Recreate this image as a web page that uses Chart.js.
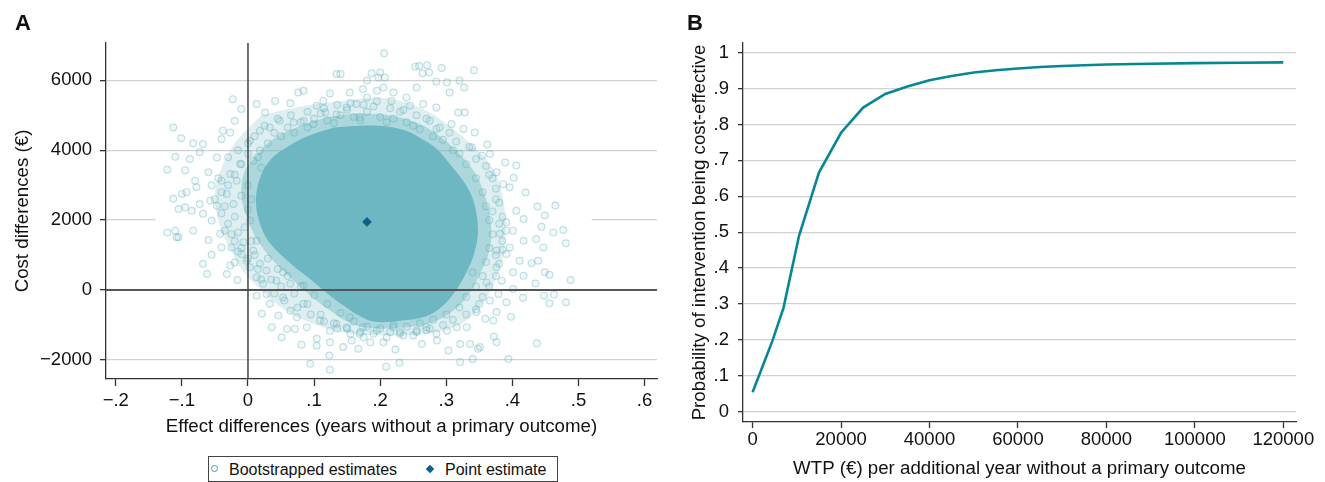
<!DOCTYPE html>
<html>
<head>
<meta charset="utf-8">
<script src="https://cdn.jsdelivr.net/npm/chart.js@4.4.1/dist/chart.umd.min.js"></script>
<style>
  body { margin: 0; background: #fff; width: 1325px; height: 482px; overflow: hidden; position: relative; font-family: "Liberation Sans", Arial, sans-serif; color: #111; }
  #cA { position: absolute; left: 0; top: 0; }
  #cB { position: absolute; left: 680px; top: 0; }
  .panel { position: absolute; top: 12px; font-weight: bold; font-size: 22px; line-height: 22px; }
  #legend { position: absolute; left: 208px; top: 456px; width: 348px; height: 24px; border: 1px solid #444; }
  #legend span { position: absolute; top: 5px; font-size: 16px; line-height: 16px; white-space: nowrap; }
  .ring { position: absolute; left: 2px; top: 8px; width: 5px; height: 5px; border: 1.3px solid #3f9db3; border-radius: 50%; }
  .dia { position: absolute; left: 218px; top: 9px; width: 6px; height: 6px; background: #0b6283; transform: rotate(45deg); }
</style>
</head>
<body>
<canvas id="cA" width="680" height="452"></canvas>
<canvas id="cB" width="645" height="482"></canvas>
<div class="panel" style="left:15px">A</div>
<div class="panel" style="left:687px">B</div>
<div id="legend">
  <div class="ring"></div><span style="left:20px">Bootstrapped estimates</span>
  <div class="dia"></div><span style="left:236px">Point estimate</span>
</div>
<script>
// ---- panel A: cost-effectiveness plane ----
const effectTicks = [-0.2, -0.1, 0, 0.1, 0.2, 0.3, 0.4, 0.5, 0.6]
const effectTickLabels = ['\u2212.2', '\u2212.1', '0', '.1', '.2', '.3', '.4', '.5', '.6']
const costTicks = [-2000, 0, 2000, 4000, 6000]
const costTickLabels = ['\u22122000', '0', '2000', '4000', '6000']

const pointEffect = 0.18
const pointCost = 1950

// bootstrap replicates (effect, cost)
const bootPairs = [
  [-0.113, 4650], [-0.101, 4340], [-0.122, 3440], [-0.110, 3810], [-0.095, 3430], [-0.083, 4200],
  [-0.068, 4180], [-0.088, 3750], [-0.073, 3940], [-0.023, 5460], [-0.038, 4560], [-0.040, 4320],
  [-0.027, 4510], [-0.020, 4840], [-0.010, 5180], [0.013, 5320], [0.026, 5080], [0.041, 5410],
  [0.064, 5340], [0.076, 5650], [0.084, 5700], [0.104, 5270], [0.114, 5410], [0.124, 5620],
  [0.134, 6180], [0.140, 6180], [0.154, 5650], [0.174, 5750], [0.187, 6200], [0.180, 5990],
  [0.197, 6080], [-0.113, 2610], [-0.100, 2750], [-0.093, 2800], [-0.080, 3130], [-0.078, 2940],
  [-0.060, 3370], [-0.047, 3790], [-0.057, 2560], [-0.040, 3130], [-0.027, 3320], [-0.017, 3130],
  [-0.012, 3610], [-0.032, 2750], [-0.022, 2460], [-0.047, 2410], [-0.073, 2460], [-0.095, 2370],
  [0.003, 4270], [0.018, 4560], [0.033, 4650], [0.048, 4840], [0.069, 4790], [0.084, 4840],
  [0.099, 4750], [0.117, 5080], [0.134, 5030], [0.149, 5220], [0.164, 5320], [0.180, 5510],
  [0.195, 5700], [0.169, 4940], [0.018, 3990], [0.008, 3700],
  [-0.122, 1650], [-0.110, 1700], [-0.105, 1510], [-0.083, 1700], [-0.105, 2320], [-0.085, 2270],
  [-0.068, 2180], [-0.055, 1990], [-0.060, 1430], [-0.055, 1010], [-0.068, 750], [-0.062, 460],
  [-0.040, 1220], [-0.027, 700], [-0.032, 460], [-0.016, 290], [-0.020, 790], [-0.042, 1610],
  [-0.025, 1220], [-0.015, 1650], [-0.007, 1370], [-0.010, 1030], [-0.002, 840], [-0.108, 1510],
  [0.013, -160], [0.021, -680], [0.036, -1060], [0.051, -1350], [0.046, -730], [0.059, -1110],
  [0.071, -1110], [0.081, -1560], [0.104, -1590], [0.094, -2110], [0.123, -1870], [0.124, -2280],
  [0.124, -1490], [0.104, -1390], [0.089, -1060], [0.124, -1160], [0.144, -1630], [0.157, -1440],
  [0.167, -1680], [0.185, -1490], [0.169, -1250], [0.033, -390], [0.028, -110], [0.053, -210],
  [0.064, -590], [0.074, -780], [0.084, -390], [0.109, -870], [0.134, -970], [0.149, -1060],
  [0.154, -780], [0.003, 650], [0.013, 370], [0.023, 180], [0.043, 270], [0.064, 180],
  [0.084, 130], [0.008, 1130], [0.018, 750], [0.028, 560], [0.053, 510], [0.013, 1410], [0.003, 1990],
  [0.206, 6770], [0.253, 6390], [0.259, 6410], [0.271, 6430], [0.264, 6200], [0.274, 6220],
  [0.293, 6350], [0.342, 6290], [0.285, 5960], [0.301, 5940], [0.305, 5650], [0.320, 5990],
  [0.327, 5790], [0.318, 5080], [0.328, 5080], [0.343, 4510], [0.362, 4160], [0.406, 3560],
  [0.389, 3650], [0.402, 3210], [0.420, 2790], [0.438, 2390], [0.465, 2420], [0.376, 3370],
  [0.366, 3890], [0.354, 3840], [0.339, 4080], [0.326, 4610], [0.308, 4750], [0.285, 4610],
  [0.275, 4840], [0.255, 5790], [0.220, 5650], [0.217, 5410], [0.240, 5510], [0.265, 5320],
  [0.285, 5220], [0.245, 5270], [0.200, 6220], [0.207, 6080], [0.205, 5790], [0.396, 2940], [0.386, 3030],
  [0.449, 2130], [0.444, 1810], [0.462, 1650], [0.477, 1720], [0.481, 1340], [0.488, 290],
  [0.481, -350], [0.456, -380], [0.463, -130], [0.448, -160], [0.437, -1520], [0.435, 190],
  [0.449, 510], [0.456, 440], [0.417, 410], [0.416, -220], [0.398, -760], [0.401, 30],
  [0.391, -350], [0.429, 770], [0.439, 840], [0.447, 1220], [0.436, 1460], [0.417, 1410],
  [0.411, 840], [0.401, 510], [0.396, 1220], [0.401, 1700], [0.417, 2030], [0.394, -1970],
  [0.372, -1330], [0.376, -1490], [0.351, -1630], [0.321, -2060], [0.340, -1970], [0.303, -1730],
  [0.286, -1440], [0.263, -1540], [0.229, -2080], [0.209, -2190], [0.223, -1700], [0.205, -1490],
  [0.321, -1540], [0.336, -1540], [0.348, -1680], [0.371, -870], [0.359, -820], [0.376, -630],
  [0.346, -630], [0.331, -1060], [0.316, -1060], [0.301, -1160], [0.285, -1250], [0.270, -1060],
  [0.255, -1160], [0.230, -1250], [0.220, -1060], [0.174, -1060], [0.391, 1030], [0.384, 270],
  [0.379, -110], [0.366, -300], [0.361, 220], [0.376, 650], [0.406, 2270], [0.391, 1940],
  [0.381, 1610], [0.376, 1130],
  // dense band round the core
  [0.06, 4650], [0.08, 4800], [0.10, 4900], [0.12, 4850], [0.14, 5000], [0.16, 4950],
  [0.18, 5100], [0.20, 4950], [0.22, 4900], [0.24, 4800], [0.26, 4600], [0.11, 5050],
  [0.15, 5150], [0.19, 5250], [0.23, 5100], [0.07, 4500], [0.09, 4650], [0.13, 4780],
  [0.17, 4850], [0.21, 4800], [0.25, 4700], [0.28, 4400], [0.05, 4400], [0.03, 4200], [0.04, 4500],
  [0.0, 3900], [-0.01, 3600], [-0.02, 3300], [-0.03, 3000], [0.0, 3000], [-0.01, 2700],
  [-0.035, 2400], [-0.02, 2100], [0.0, 2300], [-0.005, 1800], [-0.025, 1600], [0.005, 1400],
  [0.01, 1000], [-0.015, 1100], [0.02, 3500], [0.015, 3800], [0.0, 4200], [-0.04, 2800],
  [-0.045, 3200], [0.005, 2600],
  [0.03, 900], [0.045, 600], [0.06, 400], [0.08, 100], [0.10, -150], [0.12, -400], [0.14, -650],
  [0.16, -900], [0.18, -1050], [0.035, 300], [0.07, -100], [0.09, -400], [0.11, -700],
  [0.13, -950], [0.05, 100],
  [0.20, -1100], [0.22, -1000], [0.24, -1050], [0.26, -950], [0.28, -850], [0.30, -700],
  [0.32, -500], [0.19, -1250], [0.23, -1200], [0.27, -1150], [0.21, -1350], [0.25, -1300],
  [0.15, -1100], [0.17, -1200],
  [0.33, -200], [0.345, 100], [0.355, 400], [0.36, 800], [0.365, 1200], [0.37, 1600],
  [0.365, 2000], [0.36, 2400], [0.355, 2800], [0.345, 3200], [0.33, 3600], [0.31, 4000],
  [0.295, 4300], [0.375, 1000], [0.38, 1900], [0.375, 2600], [0.365, 3300], [0.35, -400],
  [0.34, 500], [0.385, 1400], [0.37, 2250], [0.32, 3900],
  [-0.03, 3800], [-0.015, 4000], [0.01, 4400], [0.025, 4700], [0.045, 4900], [0.065, 5000],
  [0.09, 5100], [0.115, 5200], [0.135, 5300], [0.155, 5350], [0.175, 5300], [0.195, 5400],
  [0.215, 5200], [0.235, 5150], [0.255, 5000], [0.27, 4900], [0.29, 4650], [0.305, 4500],
  [0.315, 4250], [-0.05, 2600], [-0.055, 3000], [-0.04, 2200], [-0.03, 1900], [-0.02, 1400],
  [-0.035, 1700], [-0.01, 1200], [0.0, 900], [0.015, 600], [0.02, 300], [0.04, -100],
  [0.055, -300], [0.075, -500], [0.095, -700], [0.115, -900], [0.135, -1100], [0.155, -1250],
  [0.175, -1350], [0.195, -1150], [0.215, -1200], [0.235, -1300], [0.255, -1200], [0.275, -1100],
  [0.295, -1000], [0.31, -850], [0.33, -700], [0.345, -550], [0.355, -200], [0.365, 100],
  [0.375, 400], [0.38, 750], [0.385, 1150], [0.39, 1700], [0.385, 2100], [0.38, 2500],
  [0.375, 2900], [0.37, 3200], [0.36, 3550], [0.345, 3750], [0.335, 4100]
]

// outline of the solid (fully overlapped) part of the cloud
const coreEdge = [
  [0.13, 4650], [0.17, 4700], [0.21, 4680], [0.24, 4550], [0.265, 4300], [0.285, 4050],
  [0.31, 3500], [0.33, 3000], [0.342, 2500], [0.348, 1700], [0.343, 1100], [0.333, 600],
  [0.315, 0], [0.295, -450], [0.27, -750], [0.23, -880], [0.19, -900], [0.165, -700],
  [0.145, -450], [0.12, -100], [0.095, 300], [0.065, 750], [0.035, 1300], [0.02, 1800],
  [0.012, 2500], [0.018, 3200], [0.035, 3750], [0.06, 4100], [0.09, 4400], [0.13, 4650]
]
// outline of the nearly solid fringe
const midEdge = [
  [0.12, 4950], [0.17, 5050], [0.22, 4980], [0.26, 4750], [0.29, 4400], [0.32, 3900],
  [0.345, 3300], [0.36, 2600], [0.368, 1800], [0.365, 1100], [0.352, 500], [0.335, -100],
  [0.31, -600], [0.275, -950], [0.23, -1080], [0.18, -1080], [0.15, -900], [0.125, -600],
  [0.10, -250], [0.07, 250], [0.04, 800], [0.015, 1400], [0.0, 2000], [-0.01, 2700],
  [-0.005, 3400], [0.015, 3900], [0.04, 4350], [0.08, 4700], [0.12, 4950]
]
// outline of the dense ring zone around it
const haloEdge = [
  [0.02, 5000], [0.08, 5250], [0.14, 5400], [0.20, 5500], [0.25, 5300], [0.29, 4900],
  [0.33, 4300], [0.37, 3500], [0.385, 2700], [0.39, 1800], [0.385, 900], [0.37, 100],
  [0.35, -500], [0.32, -1000], [0.27, -1250], [0.20, -1300], [0.14, -1200], [0.09, -900],
  [0.05, -500], [0.02, 0], [-0.01, 600], [-0.03, 1300], [-0.045, 2000], [-0.05, 2800],
  [-0.04, 3500], [-0.02, 4200], [0.02, 5000]
]
const gridGap = [-0.14, 0.52]

// ---- panel B: acceptability curve ----
const wtp = [0, 4500, 7000, 10500, 15000, 20000, 25000, 30000, 35000, 40000, 45000, 50000,
  55000, 60000, 65000, 70000, 80000, 90000, 100000, 110000, 120000]
const probCE = [0.054, 0.198, 0.29, 0.49, 0.666, 0.777, 0.847, 0.885, 0.906, 0.923, 0.935, 0.945,
  0.951, 0.956, 0.960, 0.963, 0.967, 0.969, 0.971, 0.972, 0.973]
const wtpTicks = [0, 20000, 40000, 60000, 80000, 100000, 120000]
const probTicks = [0, 0.1, 0.2, 0.3, 0.4, 0.5, 0.6, 0.7, 0.8, 0.9, 1]
const probTickLabels = ['0', '.1', '.2', '.3', '.4', '.5', '.6', '.7', '.8', '.9', '1']

Chart.defaults.font.family = '"Liberation Sans", Arial, sans-serif'
Chart.defaults.color = '#111'
Chart.defaults.animation = false

const AXIS = '#333'
const GRID = '#d2d2d2'
const CLOUD = '108,183,193'
const tickFont = { size: 18.5, lineHeight: 1 }
const titleFont = { size: 18.7 }

function toXY (pairs) {
  return pairs.map(function (p) { return { x: p[0], y: p[1] } })
}
function setTicks (values) {
  return function (scale) { scale.ticks = values.map(function (v) { return { value: v } }) }
}
function areaSet (label, pairs, alpha) {
  return {
    type: 'line',
    label: label,
    data: toXY(pairs),
    borderWidth: 0,
    pointRadius: 0,
    tension: 0.35,
    fill: 'shape',
    backgroundColor: 'rgba(' + CLOUD + ',' + alpha + ')'
  }
}

const refLines = {
  id: 'refLines',
  beforeDatasetsDraw (chart) {
    // the 2000 grid line is broken behind the cloud in the original
    const { ctx, scales: { x, y } } = chart
    ctx.save()
    ctx.strokeStyle = '#fff'
    ctx.lineWidth = 4
    ctx.beginPath()
    ctx.moveTo(x.getPixelForValue(gridGap[0]), y.getPixelForValue(2000))
    ctx.lineTo(x.getPixelForValue(gridGap[1]), y.getPixelForValue(2000))
    ctx.stroke()
    ctx.restore()
  },
  afterDatasetsDraw (chart) {
    const { ctx, chartArea: a, scales: { x, y } } = chart
    ctx.save()
    ctx.strokeStyle = '#555'
    ctx.lineWidth = 2
    ctx.beginPath()
    ctx.moveTo(a.left, y.getPixelForValue(0))
    ctx.lineTo(a.right, y.getPixelForValue(0))
    ctx.stroke()
    ctx.strokeStyle = '#444'
    ctx.lineWidth = 1.5
    ctx.beginPath()
    ctx.moveTo(x.getPixelForValue(0), a.top)
    ctx.lineTo(x.getPixelForValue(0), a.bottom)
    ctx.stroke()
    ctx.restore()
  }
}

new Chart(document.getElementById('cA'), {
  type: 'scatter',
  data: {
    datasets: [
      {
        label: 'Point estimate',
        data: [{ x: pointEffect, y: pointCost }],
        pointStyle: 'rectRot',
        pointRadius: 4.8,
        backgroundColor: '#0b6283',
        borderWidth: 0
      },
      {
        label: 'Bootstrapped estimates',
        data: toXY(bootPairs),
        pointRadius: 3.4,
        borderWidth: 1.2,
        borderColor: 'rgba(88,168,181,0.34)',
        backgroundColor: 'rgba(' + CLOUD + ',0.1)'
      },
      areaSet('core', coreEdge, 1),
      areaSet('fringe', midEdge, 0.45),
      areaSet('halo', haloEdge, 0.22)
    ]
  },
  options: {
    responsive: false,
    layout: { padding: { top: 43, right: 23, left: 0, bottom: 0 } },
    plugins: { legend: { display: false }, tooltip: { enabled: false } },
    scales: {
      x: {
        type: 'linear',
        min: -0.2148,
        max: 0.6188,
        afterBuildTicks: setTicks(effectTicks),
        afterFit: function (s) { s.height = 73 },
        grid: { drawOnChartArea: false, tickLength: 7, tickColor: AXIS, tickWidth: 1.3 },
        border: { color: AXIS, width: 1.3 },
        ticks: { font: tickFont, padding: 6, maxRotation: 0, callback: function (v, i) { return effectTickLabels[i] } },
        title: { display: true, text: 'Effect differences (years without a primary outcome)', font: titleFont, padding: { top: 0, bottom: 14 } }
      },
      y: {
        type: 'linear',
        min: -2543,
        max: 7066,
        afterBuildTicks: setTicks(costTicks),
        afterFit: function (s) { s.width = 106 },
        grid: {
          color: function (c) { return c.tick && c.tick.value === 0 ? 'rgba(0,0,0,0)' : GRID },
          lineWidth: 1.3,
          tickLength: 6,
          tickColor: AXIS,
          tickWidth: 1.3
        },
        border: { color: AXIS, width: 1.3 },
        ticks: { font: tickFont, padding: 8, callback: function (v, i) { return costTickLabels[i] } },
        title: { display: true, text: 'Cost differences (\u20ac)', font: titleFont, padding: { top: 12, bottom: 0 } }
      }
    }
  },
  plugins: [refLines]
})

new Chart(document.getElementById('cB'), {
  type: 'line',
  data: {
    datasets: [{
      label: 'CEAC',
      data: wtp.map(function (w, i) { return { x: w, y: probCE[i] } }),
      borderColor: '#078794',
      borderWidth: 2.6,
      pointRadius: 0,
      tension: 0
    }]
  },
  options: {
    responsive: false,
    layout: { padding: { top: 43, right: 29, left: 0, bottom: 0 } },
    plugins: { legend: { display: false }, tooltip: { enabled: false } },
    scales: {
      x: {
        type: 'linear',
        min: -2170,
        max: 122870,
        afterBuildTicks: setTicks(wtpTicks),
        afterFit: function (s) { s.height = 60 },
        grid: { drawOnChartArea: false, tickLength: 6, tickColor: AXIS, tickWidth: 1.3 },
        border: { color: AXIS, width: 1.3 },
        ticks: { font: tickFont, padding: 3, maxRotation: 0, callback: function (v) { return String(v) } },
        title: { display: true, text: 'WTP (\u20ac) per additional year without a primary outcome', font: titleFont, padding: { top: 0, bottom: 2 } }
      },
      y: {
        type: 'linear',
        min: -0.0287,
        max: 1.027,
        afterBuildTicks: setTicks(probTicks),
        afterFit: function (s) { s.width = 63 },
        grid: { color: GRID, lineWidth: 1.3, tickLength: 5, tickColor: AXIS, tickWidth: 1.3 },
        border: { color: AXIS, width: 1.3 },
        ticks: { font: tickFont, padding: 9, callback: function (v, i) { return probTickLabels[i] } },
        title: { display: true, text: 'Probability of intervention being cost-effective', font: titleFont, padding: { top: 9, bottom: 0 } }
      }
    }
  }
})
</script>
</body>
</html>
